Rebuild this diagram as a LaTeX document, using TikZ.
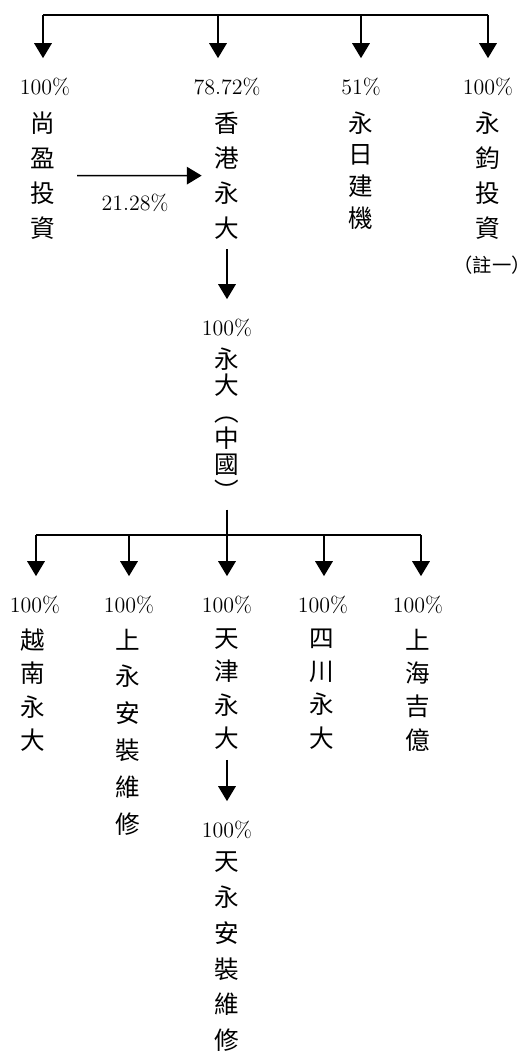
\documentclass[tikz,border=0pt]{standalone}
\usepackage{fontspec}
\newfontfamily\cjk{Noto Sans CJK TC}
\usetikzlibrary{arrows.meta}

\tikzset{
  pct/.style={inner sep=0pt, font=\fontsize{12.5pt}{15pt}\selectfont},
  vname/.style={anchor=north, inner sep=0pt, align=center, font=\cjk\fontsize{14pt}{#1}\selectfont},
  vname/.default=20pt,
  arr/.style={-{Triangle[width=10pt,length=8.5pt]}, shorten >=11pt},
}

\begin{document}
\begin{tikzpicture}[x=0.02cm, y=-0.02cm, line width=0.8pt]
    \useasboundingbox (0,0) rectangle (528,1054);
    % first level
    \coordinate (t1) at (43,15);
    \coordinate (t2) at (218,15);
    \coordinate (t3) at (361,15);
    \coordinate (t4) at (488,15);
    \node [pct] (p1) at (45,87) {100\%};
    \node [pct] (p2) at (227,87) {78.72\%};
    \node [pct] (p3) at (361,87) {51\%};
    \node [pct] (p4) at (488,87) {100\%};
    \node [vname] (n1) at (43,111) {尚\\盈\\投\\資};
    \node [vname] (n2) at (227,111) {香\\港\\永\\大};
    \node [vname=18pt] (n3) at (361,111) {永\\日\\建\\機};
    \node [vname] (n4) at (488,111) {永\\鈞\\投\\資};
    \node [inner sep=0pt, font=\cjk\fontsize{11pt}{13pt}\selectfont] (note) at (492,265) {（註一）};
    \draw (t1) -- (t4);
    \draw [arr] (t1) -- (t1 |- p1.north);
    \draw [arr] (t2) -- (t2 |- p2.north);
    \draw [arr] (t3) -- (t3 |- p3.north);
    \draw [arr] (t4) -- (t4 |- p4.north);
    \draw [arr, shorten <=12pt, shorten >=7pt] (n1) -- (n2) node [pct, midway, below=10pt] (r1) {21.28\%};
    % second level
    \node [pct] (p5) at (227,328) {100\%};
    \node [vname=15pt] (n5) at (227,347) {永\\大\\︵\\中\\國\\︶};
    \draw [arr, shorten <=5pt] (n2.south) -- (p5.north);
    % third level
    \coordinate (b1) at (36,535);
    \coordinate (b2) at (129,535);
    \coordinate (b3) at (227,535);
    \coordinate (b4) at (324,535);
    \coordinate (b5) at (421,535);
    \node [pct] (q1) at (35,605) {100\%};
    \node [pct] (q2) at (129,605) {100\%};
    \node [pct] (q3) at (227,605) {100\%};
    \node [pct] (q4) at (323,605) {100\%};
    \node [pct] (q5) at (418,605) {100\%};
    \node [vname=19pt] (m1) at (33,628) {越\\南\\永\\大};
    \node [vname=21pt] (m2) at (128,628) {上\\永\\安\\裝\\維\\修};
    \node [vname=19pt] (m3) at (227,628) {天\\津\\永\\大};
    \node [vname=19pt] (m4) at (322,628) {四\\川\\永\\大};
    \node [vname=19pt] (m5) at (418,628) {上\\海\\吉\\億};
    \draw [shorten <=5pt] (n5.south) -- (b3);
    \draw (b1) -- (b5);
    \draw [arr] (b1) -- (b1 |- q1.north);
    \draw [arr] (b2) -- (b2 |- q2.north);
    \draw [arr] (b3) -- (b3 |- q3.north);
    \draw [arr] (b4) -- (b4 |- q4.north);
    \draw [arr] (b5) -- (b5 |- q5.north);
    % fourth level
    \node [pct] (p11) at (227,830) {100\%};
    \node [vname=20.4pt] (n11) at (227,851) {天\\永\\安\\裝\\維\\修};
    \draw [arr, shorten <=5.5pt] (m3.south) -- (p11.north);
  \end{tikzpicture}
\end{document}
